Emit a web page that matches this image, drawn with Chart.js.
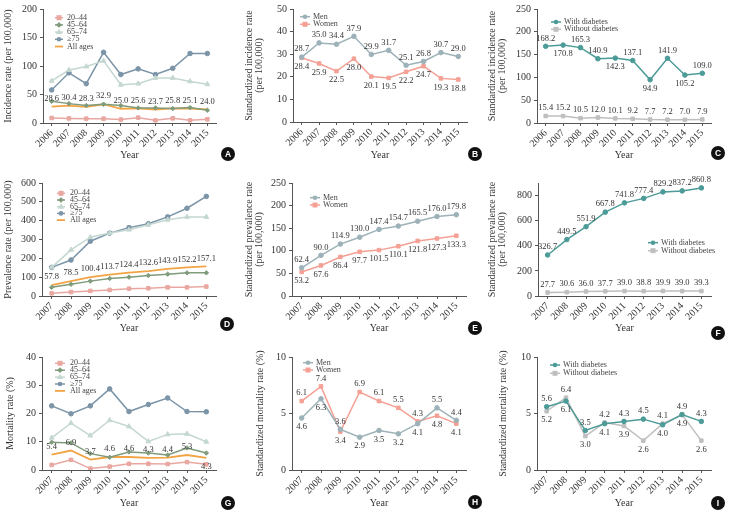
<!DOCTYPE html>
<html><head><meta charset="utf-8">
<script src="https://cdn.jsdelivr.net/npm/chart.js@4.4.0/dist/chart.umd.min.js"></script>
<style>
html,body{margin:0;padding:0;background:#fff;width:733px;height:513px;overflow:hidden;}
canvas{position:absolute;}
</style></head><body>
<canvas id="cA" width="245" height="170" style="left:0;top:0"></canvas>
<canvas id="cB" width="243" height="170" style="left:245px;top:0"></canvas>
<canvas id="cC" width="245" height="170" style="left:488px;top:0"></canvas>
<canvas id="cD" width="245" height="170" style="left:0;top:170px"></canvas>
<canvas id="cE" width="243" height="170" style="left:245px;top:170px"></canvas>
<canvas id="cF" width="245" height="170" style="left:488px;top:170px"></canvas>
<canvas id="cG" width="245" height="173" style="left:0;top:340px"></canvas>
<canvas id="cH" width="243" height="173" style="left:245px;top:340px"></canvas>
<canvas id="cI" width="245" height="173" style="left:488px;top:340px"></canvas>
<script>
// ---------- data ----------
const yearsInc = ['2006','2007','2008','2009','2010','2011','2012','2013','2014','2015'];
const yearsPrev = ['2007','2008','2009','2010','2011','2012','2013','2014','2015'];
const ageGroups = ['20\u201344','45\u201364','65\u201374','\u226575','All ages'];
const sexGroups = ['Men','Women'];
const dmGroups = ['With diabetes','Without diabetes'];

// A: incidence by age
const incAge2044 = [8.8, 8.0, 7.6, 7.6, 6.0, 9.4, 4.7, 8.2, 4.7, 6.5];
const incAge4564 = [38, 34, 30.6, 33, 30.6, 26.5, 26.5, 25.3, 27, 22.4];
const incAge6574 = [74, 93, 99, 109, 67, 69, 79, 79, 73, 68];
const incAge75 = [58, 88, 69, 124, 85, 95, 85, 96, 122, 122];
const incAllAges = [28.6, 30.4, 28.3, 32.9, 25.0, 25.6, 23.7, 25.8, 25.1, 24.0];
// B: standardized incidence by sex
const incMen = [28.7, 35.0, 34.4, 37.9, 29.9, 31.7, 25.1, 26.8, 30.7, 29.0];
const incWomen = [28.4, 25.9, 22.5, 28.0, 20.1, 19.5, 22.2, 24.7, 19.3, 18.8];
// C: standardized incidence by diabetes
const incWithDM = [168.2, 170.8, 165.3, 140.9, 142.3, 137.1, 94.9, 141.9, 105.2, 109.0];
const incWithoutDM = [15.4, 15.2, 10.5, 12.0, 10.1, 9.2, 7.7, 7.2, 7.0, 7.9];
// D: prevalence by age
const prevAge2044 = [14, 21, 27, 32, 39, 41, 46, 46, 50];
const prevAge4564 = [46, 62, 79, 93, 100, 109, 116, 123, 123];
const prevAge6574 = [152, 245, 312, 334, 352, 378, 405, 420, 420];
const prevAge75 = [152, 191, 291, 334, 363, 384, 420, 466, 529];
const prevAllAges = [57.8, 78.5, 100.4, 113.7, 124.4, 132.6, 143.9, 152.2, 157.1];
// E: standardized prevalence by sex
const prevMen = [62.4, 90.0, 114.9, 130.0, 147.4, 154.7, 165.5, 176.0, 179.8];
const prevWomen = [53.2, 67.6, 86.4, 97.7, 101.5, 110.1, 121.8, 127.3, 133.3];
// F: standardized prevalence by diabetes
const prevWithDM = [326.7, 449.5, 551.9, 667.8, 741.8, 777.4, 829.2, 837.2, 860.8];
const prevWithoutDM = [27.7, 30.6, 36.0, 37.7, 39.0, 38.8, 39.9, 39.0, 39.3];
// G: mortality by age
const mortAge2044 = [1.8, 3.6, 0.5, 1.2, 2.2, 2.2, 2.1, 2.8, 2.0];
const mortAge4564 = [9.8, 9.6, 5.8, 4.5, 6.4, 6.0, 5.3, 7.8, 6.0];
const mortAge6574 = [11.4, 16.6, 12.2, 17.6, 15.4, 10.1, 12.6, 12.8, 10.0];
const mortAge75 = [22.7, 19.9, 22.7, 28.7, 20.7, 23.2, 25.5, 20.7, 20.6];
const mortAllAges = [5.4, 6.9, 3.7, 4.6, 4.6, 4.3, 4.4, 5.3, 4.3];
// H: standardized mortality by sex
const mortMen = [4.6, 6.3, 3.6, 2.9, 3.5, 3.2, 4.1, 5.5, 4.4];
const mortWomen = [6.1, 7.4, 3.4, 6.9, 6.1, 5.5, 4.3, 4.8, 4.1];
// I: standardized mortality by diabetes
const mortWithDM = [5.6, 6.1, 3.5, 4.1, 4.3, 4.5, 4.0, 4.9, 4.3];
const mortWithoutDM = [5.2, 6.4, 3.0, 4.2, 3.9, 2.6, 4.1, 4.9, 2.6];

// ---------- value label placement (a = above, b = below) ----------
const posAbove10 = Array(10).fill('a'), posBelow10 = Array(10).fill('b');
const posAbove9 = Array(9).fill('a'), posBelow9 = Array(9).fill('b');
const posIncWithDM = ['a','b','a','a','b','a','b','a','b','a'];
const posMortAll = ['a','a','a','a','a','a','a','a','b'];
const posMortMen = ['b','b','a','b','b','b','b','a','a'];
const posMortWomen = ['a','a','b','a','a','a','a','b','b'];
const posMortWith = ['a','b','a','b','a','a','b','a','a'];
const posMortWithout = ['b','a','b','a','b','b','a','b','b'];

// ---------- styles ----------
const FONT = '"Liberation Serif","Times New Roman",serif';
const C2044 = '#e9a7a1', C4564 = '#7f9b7b', C6574 = '#c4d7d1', C75 = '#7b94a7', CALL = '#f2a444';
const CMEN = '#9db2b8', CWOMEN = '#f5a095', CWITH = '#4c9b97', CWITHOUT = '#bfbfbf';
const TXT = '#333333', AX = '#555555';

function ser(label, data, color, style, radius, labelPos, width) {
  return {label, data, borderColor: color, backgroundColor: color,
    pointBackgroundColor: color, pointBorderColor: color, pointBorderWidth: 1,
    pointStyle: style || 'circle', pointRadius: radius, borderWidth: width || 1.5,
    tension: 0, fill: false, labelPos: labelPos || null};
}

function drawMarker(ctx, style, r, x, y, color) {
  if (!r) return;
  ctx.save(); ctx.fillStyle = color; ctx.strokeStyle = color; ctx.lineWidth = 1;
  ctx.beginPath();
  if (style === 'rect') { ctx.rect(x - r, y - r, 2 * r, 2 * r); }
  else if (style === 'rectRot') { ctx.moveTo(x, y - r * 1.3); ctx.lineTo(x + r * 1.3, y); ctx.lineTo(x, y + r * 1.3); ctx.lineTo(x - r * 1.3, y); ctx.closePath(); }
  else if (style === 'triangle') { ctx.moveTo(x, y - r * 1.2); ctx.lineTo(x + r * 1.1, y + r * 0.7); ctx.lineTo(x - r * 1.1, y + r * 0.7); ctx.closePath(); }
  else { ctx.arc(x, y, r, 0, Math.PI * 2); }
  ctx.fill(); ctx.restore();
}

const deco = {
  id: 'deco',
  afterDatasetsDraw(chart) {
    const o = chart.options.plugins.deco, ctx = chart.ctx, ca = chart.chartArea;
    ctx.save();
    // value labels
    ctx.font = '8.5px ' + FONT; ctx.fillStyle = TXT; ctx.textAlign = 'center'; ctx.textBaseline = 'middle';
    chart.data.datasets.forEach((ds, i) => {
      if (!ds.labelPos) return;
      chart.getDatasetMeta(i).data.forEach((pt, j) => {
        const y = ds.labelPos[j] === 'b' ? pt.y + 9 : pt.y - 8;
        ctx.fillText(ds.data[j].toFixed(1), pt.x, y);
      });
    });
    // legend
    const lg = o.legend;
    ctx.font = '8px ' + FONT; ctx.textAlign = 'left';
    chart.data.datasets.forEach((ds, i) => {
      const y = ca.top + lg.y + i * lg.dy, x0 = ca.left + lg.x, x1 = x0 + lg.w;
      ctx.strokeStyle = ds.borderColor; ctx.lineWidth = ds.borderWidth;
      ctx.beginPath(); ctx.moveTo(x0, y); ctx.lineTo(x1, y); ctx.stroke();
      drawMarker(ctx, ds.pointStyle, ds.pointRadius, (x0 + x1) / 2, y, ds.borderColor);
      ctx.fillStyle = '#444'; ctx.fillText(ds.label, x1 + lg.tx, y);
    });
    // badge
    const b = o.badge;
    ctx.fillStyle = '#111'; ctx.beginPath(); ctx.arc(b.x, b.y, 7, 0, Math.PI * 2); ctx.fill();
    ctx.fillStyle = '#fff'; ctx.font = 'bold 8.5px "Liberation Sans",Arial,sans-serif'; ctx.textAlign = 'center';
    ctx.fillText(b.letter, b.x, b.y + 0.5);
    ctx.restore();
  }
};

function panel(id, labels, datasets, yMax, yStep, yTitle, L) {
  const twoLine = Array.isArray(yTitle);
  new Chart(document.getElementById(id), {
    type: 'line',
    data: {labels, datasets},
    plugins: [deco],
    options: {
      responsive: false, animation: false,
      layout: {padding: {top: L.pt, right: L.pr, left: 0, bottom: 0}},
      plugins: {legend: {display: false}, tooltip: {enabled: false}, deco: {legend: L.legend, badge: L.badge}},
      scales: {
        x: {
          offset: true,
          grid: {display: true, drawOnChartArea: false, drawTicks: true, tickLength: 3, color: AX},
          border: {display: true, color: AX, width: 1},
          ticks: {autoSkip: false, minRotation: 45, maxRotation: 45, padding: 1, color: TXT, font: {family: FONT, size: 10}},
          title: {display: true, text: 'Year', color: TXT, font: {family: FONT, size: 10}, padding: {top: 0, bottom: L.xpb}},
          afterFit: s => { s.height = L.xh; }
        },
        y: {
          min: 0, max: yMax,
          grid: {display: true, drawOnChartArea: false, drawTicks: true, tickLength: 3, color: AX},
          border: {display: true, color: AX, width: 1},
          ticks: {stepSize: yStep, padding: 3, color: TXT, font: {family: FONT, size: 10}},
          title: {display: true, text: yTitle, color: TXT,
                  font: {family: FONT, size: 10, lineHeight: twoLine ? 0.95 : 1.2},
                  padding: {top: L.ypt, bottom: 0}},
          afterFit: s => { s.width = L.yw; }
        }
      }
    }
  });
}

const incTitleStd = ['Standardized incidence rate', '(per 100,000)'];
const prevTitleStd = ['Standardized prevalence rate', '(per 100,000)'];

// A
panel('cA', yearsInc, [
  ser(ageGroups[0], incAge2044, C2044, 'rect', 2.5),
  ser(ageGroups[1], incAge4564, C4564, 'rectRot', 2.2),
  ser(ageGroups[2], incAge6574, C6574, 'triangle', 2.8),
  ser(ageGroups[3], incAge75, C75, 'circle', 2.3),
  ser(ageGroups[4], incAllAges, CALL, 'circle', 0, posAbove10, 1.8)
], 200, 50, 'Incidence rate (per 100,000)',
  {pt: 9, pr: 29, yw: 43, xh: 47, xpb: 9, ypt: 2,
   legend: {x: 12, y: 8.7, dy: 7.2, w: 8, tx: 4}, badge: {x: 228, y: 154, letter: 'A'}});
// B
panel('cB', yearsInc, [
  ser(sexGroups[0], incMen, CMEN, 'circle', 2.3, posAbove10),
  ser(sexGroups[1], incWomen, CWOMEN, 'rect', 2.5, posBelow10)
], 50, 10, incTitleStd,
  {pt: 9, pr: 21, yw: 48, xh: 48, xpb: 9, ypt: 0,
   legend: {x: 7, y: 7.7, dy: 7.6, w: 10, tx: 3}, badge: {x: 230, y: 154, letter: 'B'}});
// C
panel('cC', yearsInc, [
  ser(dmGroups[0], incWithDM, CWITH, 'circle', 2.3, posIncWithDM),
  ser(dmGroups[1], incWithoutDM, CWITHOUT, 'rect', 2.5, posAbove10)
], 250, 50, incTitleStd,
  {pt: 7, pr: 22, yw: 49, xh: 47, xpb: 9, ypt: 0,
   legend: {x: 14, y: 13, dy: 7.3, w: 10, tx: 3}, badge: {x: 230, y: 153, letter: 'C'}});
// D
panel('cD', yearsPrev, [
  ser(ageGroups[0], prevAge2044, C2044, 'rect', 2.5),
  ser(ageGroups[1], prevAge4564, C4564, 'rectRot', 2.2),
  ser(ageGroups[2], prevAge6574, C6574, 'triangle', 2.8),
  ser(ageGroups[3], prevAge75, C75, 'circle', 2.3),
  ser(ageGroups[4], prevAllAges, CALL, 'circle', 0, posAbove9, 1.8)
], 600, 100, 'Prevalence rate (per 100,000)',
  {pt: 13, pr: 29, yw: 42, xh: 44, xpb: 6, ypt: 2,
   legend: {x: 15, y: 10.3, dy: 6.7, w: 8, tx: 5}, badge: {x: 227, y: 154, letter: 'D'}});
// E
panel('cE', yearsPrev, [
  ser(sexGroups[0], prevMen, CMEN, 'circle', 2.3, posAbove9),
  ser(sexGroups[1], prevWomen, CWOMEN, 'rect', 2.5, posBelow9)
], 250, 50, prevTitleStd,
  {pt: 13, pr: 22, yw: 47, xh: 44, xpb: 6, ypt: 0,
   legend: {x: 18, y: 14.7, dy: 7.3, w: 10, tx: 3}, badge: {x: 230, y: 158, letter: 'E'}});
// F
panel('cF', yearsPrev, [
  ser(dmGroups[0], prevWithDM, CWITH, 'circle', 2.3, posAbove9),
  ser(dmGroups[1], prevWithoutDM, CWITHOUT, 'rect', 2.5, posAbove9)
], 900, 100, prevTitleStd,
  {pt: 13, pr: 22, yw: 50, xh: 44, xpb: 6, ypt: 0,
   legend: {x: 110, y: 59.7, dy: 8, w: 10, tx: 3}, badge: {x: 230, y: 163, letter: 'F'}});
// G
panel('cG', yearsPrev, [
  ser(ageGroups[0], mortAge2044, C2044, 'rect', 2.5),
  ser(ageGroups[1], mortAge4564, C4564, 'rectRot', 2.2),
  ser(ageGroups[2], mortAge6574, C6574, 'triangle', 2.8),
  ser(ageGroups[3], mortAge75, C75, 'circle', 2.3),
  ser(ageGroups[4], mortAllAges, CALL, 'circle', 0, posMortAll, 1.8)
], 40, 10, 'Mortality rate (%)',
  {pt: 17, pr: 29, yw: 42, xh: 43, xpb: 4, ypt: 4,
   legend: {x: 13, y: 6.3, dy: 6.9, w: 10, tx: 5}, badge: {x: 228, y: 163, letter: 'G'}});
// H
panel('cH', yearsPrev, [
  ser(sexGroups[0], mortMen, CMEN, 'circle', 2.3, posMortMen),
  ser(sexGroups[1], mortWomen, CWOMEN, 'rect', 2.5, posMortWomen)
], 10, 5, 'Standardized mortality rate (%)',
  {pt: 17, pr: 22, yw: 47, xh: 43, xpb: 4, ypt: 9,
   legend: {x: 11, y: 5.7, dy: 7.3, w: 10, tx: 3}, badge: {x: 230, y: 162, letter: 'H'}});
// I
panel('cI', yearsPrev, [
  ser(dmGroups[0], mortWithDM, CWITH, 'circle', 2.3, posMortWith),
  ser(dmGroups[1], mortWithoutDM, CWITHOUT, 'rect', 2.5, posMortWithout)
], 10, 5, 'Standardized mortality rate (%)',
  {pt: 17, pr: 22, yw: 49, xh: 43, xpb: 4, ypt: 9,
   legend: {x: 13, y: 8, dy: 8.3, w: 10, tx: 3}, badge: {x: 230, y: 163, letter: 'I'}});
</script>
</body></html>
